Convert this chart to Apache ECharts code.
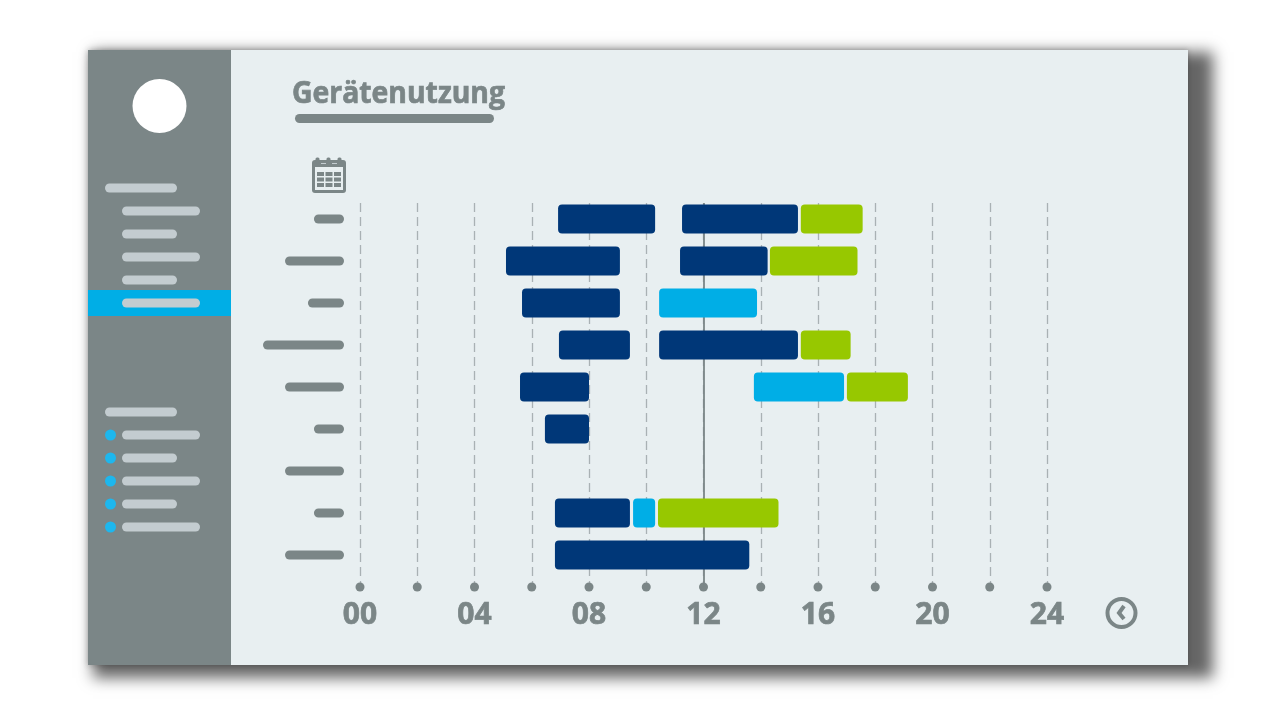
<!DOCTYPE html>
<html>
<head>
<meta charset="utf-8">
<style>
  html, body { margin: 0; padding: 0; background: #fff; }
  #chart { width: 1280px; height: 720px; }
</style>
<script src="https://cdn.jsdelivr.net/npm/echarts@6/dist/echarts.min.js"></script>
</head>
<body>
<div id="chart"></div>
<script>
// hours 0-24, one row per device
var rows = [0, 1, 2, 3, 4, 5, 6, 7, 8];
var rowLabelLengths = [1.05, 2.06, 1.26, 2.83, 2.06, 1.05, 2.06, 1.05, 2.06];
var hourTicks = [0, 2, 4, 6, 8, 10, 12, 14, 16, 18, 20, 22, 24];

var darkBlueBars = [
  [0, 6.92, 10.31], [0, 11.25, 15.3],
  [1, 5.1, 9.08], [1, 11.18, 14.24],
  [2, 5.66, 9.08],
  [3, 6.95, 9.43], [3, 10.45, 15.3],
  [4, 5.59, 8.0],
  [5, 6.46, 8.0],
  [7, 6.81, 9.43],
  [8, 6.81, 13.6]
];
var lightBlueBars = [
  [2, 10.45, 13.87],
  [4, 13.76, 16.91],
  [7, 9.54, 10.31]
];
var greenBars = [
  [0, 15.4, 17.56],
  [1, 14.32, 17.38],
  [3, 15.4, 17.14],
  [4, 17.01, 19.14],
  [7, 10.41, 14.62]
];

var nowHour = 12;

var grey = '#7b8687';
var pale = '#c3ccd0';
var cyan = '#00aee6';
var panel = '#e8eff1';

function renderBar(params, api) {
  var start = api.coord([api.value(1), api.value(0)]);
  var end = api.coord([api.value(2), api.value(0)]);
  return {
    type: 'rect',
    shape: { x: start[0], y: start[1] - 14.5, width: end[0] - start[0], height: 29, r: 4 },
    style: { fill: api.visual('color') }
  };
}

function barSeries(name, data, color) {
  return {
    name: name,
    type: 'custom',
    data: data,
    renderItem: renderBar,
    encode: { x: [1, 2], y: 0 },
    itemStyle: { color: color },
    z: 5,
    silent: true
  };
}

// the grey placeholder pills left of the plot stand in for row names
function renderRowLabel(params, api) {
  var zero = api.coord([0, api.value(0)]);
  var len = api.size([api.value(1), 0])[0];
  return {
    type: 'rect',
    shape: { x: zero[0] - 16 - len, y: zero[1] - 4.5, width: len, height: 9, r: 4.5 },
    style: { fill: grey }
  };
}

function pill(x, y, w, color) {
  return {
    type: 'rect',
    shape: { x: x, y: y - 4.5, width: w, height: 9, r: 4.5 },
    style: { fill: color },
    z: 3
  };
}

function dot(x, y, r, color) {
  return { type: 'circle', shape: { cx: x, cy: y, r: r }, style: { fill: color }, z: 3 };
}

function box(x, y, w, h, color, r) {
  return { type: 'rect', shape: { x: x, y: y, width: w, height: h, r: r || 0 }, style: { fill: color }, z: 3 };
}

var decorations = [
  // only the blurred shadow lands on the page, the rect itself sits off to the left
  { type: 'rect', shape: { x: 93 - 2000, y: 52, width: 1120, height: 626 },
    style: { fill: '#666666', shadowBlur: 14, shadowColor: '#666666', shadowOffsetX: 2000 }, z: 0 },
  { type: 'rect', shape: { x: 88, y: 50, width: 1100, height: 615 },
    style: { fill: panel, shadowBlur: 6, shadowColor: 'rgba(0,0,0,0.25)' }, z: 1 },
  { type: 'rect', shape: { x: 88, y: 50, width: 143, height: 615 }, style: { fill: grey }, z: 2 },
  { type: 'rect', shape: { x: 88, y: 290, width: 143, height: 26 }, style: { fill: cyan }, z: 2 },
  dot(159.5, 106, 27, '#ffffff'),
  pill(105, 188, 72, pale),
  pill(122, 211, 78, pale),
  pill(122, 234, 55, pale),
  pill(122, 257, 78, pale),
  pill(122, 280, 55, pale),
  pill(122, 303, 78, pale),
  pill(105, 412, 72, pale),
  pill(122, 435, 78, pale),
  pill(122, 458, 55, pale),
  pill(122, 481, 78, pale),
  pill(122, 504, 55, pale),
  pill(122, 527, 78, pale),
  dot(110.5, 435, 5.5, '#1db7ee'),
  dot(110.5, 458, 5.5, '#1db7ee'),
  dot(110.5, 481, 5.5, '#1db7ee'),
  dot(110.5, 504, 5.5, '#1db7ee'),
  dot(110.5, 527, 5.5, '#1db7ee'),
  // title and its underline
  { type: 'text', x: 292, y: 79, scaleX: 0.945, z: 3,
    style: { text: 'Gerätenutzung', fill: grey, stroke: grey, lineWidth: 0.7, font: 'bold 30px "Open Sans"' } },
  box(295, 114, 199, 9, grey, 4.5),
  // calendar icon
  box(312, 160, 34, 33, grey, 3),
  box(315.5, 157.5, 4, 5, grey, 1.5),
  box(326.5, 157.5, 4, 5, grey, 1.5),
  box(337.5, 157.5, 4, 5, grey, 1.5),
  box(321, 163, 5, 1, '#c3ccd0'),
  box(332, 163, 5, 1, '#c3ccd0'),
  box(315, 167, 28, 23, panel),
  box(317, 172, 7, 4, grey),
  box(325.5, 172, 7, 4, grey),
  box(334, 172, 7, 4, grey),
  box(317, 177.5, 7, 4, grey),
  box(325.5, 177.5, 7, 4, grey),
  box(334, 177.5, 7, 4, grey),
  box(317, 183, 7, 4, grey),
  box(325.5, 183, 7, 4, grey),
  box(334, 183, 7, 4, grey),
  // clock icon
  { type: 'circle', shape: { cx: 1121.5, cy: 613, r: 14 }, style: { fill: 'none', stroke: grey, lineWidth: 4 }, z: 3 },
  { type: 'polyline', shape: { points: [[1124, 606], [1119, 613], [1124, 619]] },
    style: { fill: 'none', stroke: grey, lineWidth: 4 }, z: 3 }
];

var chart = echarts.init(document.getElementById('chart'));

chart.setOption({
  animation: false,
  backgroundColor: '#ffffff',
  graphic: { elements: decorations },
  grid: { left: 360, width: 687, top: 203, height: 384, z: 3 },
  xAxis: {
    type: 'value',
    min: 0,
    max: 24,
    interval: 2,
    z: 3,
    axisLine: { show: false },
    axisTick: { show: false },
    splitLine: { show: true, lineStyle: { color: '#a9b1b4', type: [9, 5], width: 1.3 } },
    axisLabel: {
      margin: 13,
      color: grey,
      fontFamily: 'Open Sans',
      fontWeight: 'bold',
      fontSize: 30,
      textBorderColor: grey,
      textBorderWidth: 0.7,
      formatter: function (v) {
        if (v % 4 !== 0) return '';
        return (v < 10 ? '0' : '') + v;
      }
    }
  },
  yAxis: {
    type: 'value',
    inverse: true,
    min: -0.381,
    max: 8.762,
    show: false,
    splitLine: { show: false }
  },
  series: [
    {
      name: 'rowLabels',
      type: 'custom',
      data: rows.map(function (r, i) { return [r, rowLabelLengths[i]]; }),
      renderItem: renderRowLabel,
      encode: { y: 0 },
      clip: false,
      silent: true,
      z: 4
    },
    {
      name: 'ticks',
      type: 'scatter',
      data: hourTicks.map(function (h) { return [h, 8.762]; }),
      symbolSize: 9,
      clip: false,
      itemStyle: { color: grey, opacity: 1 },
      silent: true,
      z: 4
    },
    {
      name: 'now',
      type: 'line',
      data: [],
      silent: true,
      z: 4,
      markLine: {
        symbol: 'none',
        silent: true,
        label: { show: false },
        lineStyle: { color: grey, type: 'solid', width: 1.8 },
        data: [{ xAxis: nowHour }]
      }
    },
    barSeries('dark', darkBlueBars, '#003778'),
    barSeries('light', lightBlueBars, '#00aee6'),
    barSeries('green', greenBars, '#97c800')
  ]
});
</script>
</body>
</html>
